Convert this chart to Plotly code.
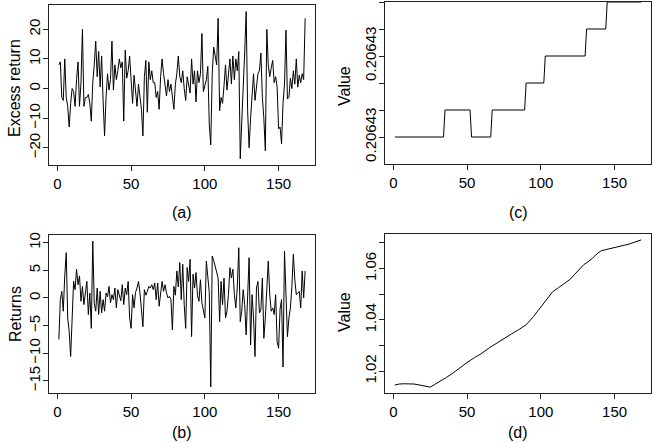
import plotly.graph_objects as go

# ---- data ----
excess_return = [8, 9, -3, -4, 10, -3, -6, -13, -5, 0, -1, -6, 3, 9, -6, 2, 20, -6, -3, -3,
                 -2, -5, -11, 2, 8, 16, 4, 12.5, 0.5, 11, -4, -16, -3, 5, -0.5, 3, 16, -0.5, 8, 3,
                 6, 10, 7, 9, -11, 13, 3.5, 6, 11, 2, -5, 4.5, -1, -6, 1.5, -4, -7, -16, 4, 9.5,
                 -8, 9, 3, 6, 2, 2, -3, -1, -7, 4, 10, 5, 1.5, -2.5, 3, -1, 1.5, -3, -7, 1.5,
                 5, 11, 4, 2, 6, 0, -4, 4, 1, -1.5, 10, 1.5, 6, -4.5, 6, 2, 5, 18.6, -1, 1.5,
                 3, 7.5, -12, -19, 5, 14, 11.5, 8, 23.7, -7.5, -3, -5, 1, 8, -0.5, 5, 10, 1.5, 11, 3,
                 10, 6, 12.5, -23.7, -8, 0.5, 12, 26, -7.5, -20, -10, -3.5, 5, -4, 1, 5, 6, 12, -3, -10,
                 -21, 20, 8, 4, 7, 9.5, 2, 4, 0.5, -13.6, -13, -18.7, -5, 1.5, 19.7, -3.5, -3, 3.5, 0, 6,
                 1.5, 10, 0.5, 4.5, 2, 5, 3, 23.7]

returns = [-7.5, -0.3, 1.2, -2.4, 4, 8.2, -3.6, -6, -10.6, -4.9, 3, 1.5, 5.2, 2.4, 4, -0.6, 2.1, -1.2, 0.5, 3,
           -3, 0.9, -5.5, 10.3, -1, -2.4, 1.8, -3, 1.2, -2.7, -0.3, -2.4, 0.9, 0.2, 2.1, -0.9, 0.6, -0.3, 1.8, -1.8,
           1.5, 0.3, -0.5, 2.4, -1.2, 1.8, 0.6, 3, -3.6, -5.5, 0.6, -1.8, 1, 1.8, 3, 0.9, -2.7, -5.2, 1.5, 0.5,
           1.2, 2.1, 1.8, 2.4, 1.5, 2.7, -0.3, 2.7, -1.5, 0.8, 3, 1.2, 2.4, 0.9, 0, 0.3, -0.3, -5.8, 2.1, 0.5,
           4.9, 2, 6.4, -0.3, 6.1, -1.2, -5.5, 5.5, 3, 7, -7, 4.3, 1.8, 4.6, 0.5, -0.6, 3.3, -0.9, -2.1, -3.6,
           6.7, 3.6, 1, -16.1, 7.6, 6.8, 5.8, 4.6, 3.6, -4.3, 3, -1.2, 3.6, -3.6, -2.4, 0.6, 5.5, 3.6, 5.2, 0.6,
           -1.8, 2, 9.1, -4.3, -2.4, 1.5, -1.2, -6.7, 1, 7.3, -8.5, 0.6, -3.6, -10.6, 1.8, 3, -2.7, -2.1, 3.6, -7.3,
           -3.6, 1, 6.7, 0.6, -2.4, -1.8, -3, 0.6, -7.9, -9.1, -2, -0.3, -12.5, 8.5, 1.8, -7, -3.6, -1.8, 2, 7.9,
           3.3, 0.6, 0.9, 1.2, -1.8, 4.9, 0, 4.9]

step_x = [1, 34, 35, 52, 53, 66, 67, 89, 90, 102, 103, 130, 131, 144, 145, 168]
step_y = [0.2064300, 0.2064300, 0.2064302, 0.2064302, 0.2064300, 0.2064300, 0.2064302, 0.2064302,
          0.2064304, 0.2064304, 0.2064306, 0.2064306, 0.2064308, 0.2064308, 0.2064310, 0.2064310]

curve_x = [1, 4, 7, 10, 14, 18, 22, 25, 28, 32, 36, 40, 45, 50, 55, 60, 65, 70, 75, 80, 85, 90,
           95, 100, 104, 108, 112, 116, 120, 123, 126, 129, 132, 135, 138, 141, 144, 148, 152, 156,
           160, 164, 168]
curve_y = [1.0146, 1.0150, 1.0151, 1.0151, 1.0150, 1.0146, 1.0142, 1.0138, 1.0148, 1.0161, 1.0176,
           1.0191, 1.0213, 1.0234, 1.0253, 1.0270, 1.0291, 1.0310, 1.0328, 1.0345, 1.0362, 1.0381,
           1.0413, 1.0452, 1.0483, 1.0510, 1.0526, 1.0542, 1.0559, 1.0578, 1.0598, 1.0615, 1.0627,
           1.0640, 1.0658, 1.0670, 1.0674, 1.0679, 1.0685, 1.0690, 1.0696, 1.0704, 1.0712]

x_ticks = [0, 50, 100, 150]
a_yticks = [-20, -10, 0, 10, 20]
b_yticks = [-15, -10, -5, 0, 5, 10]
c_yticks = [0.2064300, 0.2064302, 0.2064304, 0.2064306, 0.2064308, 0.2064310]
c_ytext = ["0.20643", "", "", "0.20643", "", ""]
d_yticks = [1.02, 1.03, 1.04, 1.05, 1.06, 1.07]
d_ytext = ["1.02", "", "1.04", "", "1.06", ""]

W, H = 653, 443
FONT = "Liberation Sans, Arial, sans-serif"

def px(x):
    return x / W

def py(y):
    return 1 - y / H

fig = go.Figure()
line = dict(color="black", width=1)
fig.add_trace(go.Scatter(x=list(range(1, len(excess_return) + 1)), y=excess_return, mode="lines",
                         line=line, xaxis="x", yaxis="y", showlegend=False))
fig.add_trace(go.Scatter(x=list(range(1, len(returns) + 1)), y=returns, mode="lines",
                         line=line, xaxis="x2", yaxis="y2", showlegend=False))
fig.add_trace(go.Scatter(x=step_x, y=step_y, mode="lines", line=line, xaxis="x3", yaxis="y3",
                         showlegend=False))
fig.add_trace(go.Scatter(x=curve_x, y=curve_y, mode="lines", line=line, xaxis="x4", yaxis="y4",
                         showlegend=False))

base = dict(showline=True, linecolor="#222", linewidth=1, mirror=True, ticks="outside",
            ticklen=5, tickcolor="#222", showgrid=False, zeroline=False,
            tickfont=dict(family=FONT, size=15, color="black"), automargin=False)
ybase = dict(base, tickangle=-90, ticklabelstandoff=-3)

xr = [-5.68, 174.68]
left_dom = [px(49), px(315)]
right_dom = [px(385), px(651)]

fig.update_layout(
    width=W, height=H,
    margin=dict(l=0, r=0, t=0, b=0),
    paper_bgcolor="white", plot_bgcolor="white",
    xaxis=dict(base, domain=left_dom, range=xr, tickvals=x_ticks, anchor="y"),
    yaxis=dict(ybase, domain=[py(165), py(5)], range=[-25.8, 28.2], tickvals=a_yticks, anchor="x"),
    xaxis2=dict(base, domain=left_dom, range=xr, tickvals=x_ticks, anchor="y2"),
    yaxis2=dict(ybase, domain=[py(393), py(235)], range=[-17.2, 11.4], tickvals=b_yticks,
                anchor="x2"),
    xaxis3=dict(base, domain=right_dom, range=xr, tickvals=x_ticks, anchor="y3"),
    yaxis3=dict(ybase, domain=[py(164), py(2)], range=[0.2064298, 0.2064310], tickvals=c_yticks,
                ticktext=c_ytext, anchor="x3"),
    xaxis4=dict(base, domain=right_dom, range=xr, tickvals=x_ticks, anchor="y4"),
    yaxis4=dict(ybase, domain=[py(393), py(234)], range=[1.0115, 1.0735], tickvals=d_yticks,
                ticktext=d_ytext, anchor="x4"),
)

def label(text, x, y, angle=0, size=16):
    fig.add_annotation(text=text, x=px(x), y=py(y), xref="paper", yref="paper",
                       showarrow=False, textangle=angle, xanchor="center", yanchor="middle",
                       font=dict(family=FONT, size=size, color="black"))

label("Excess return", 15, 88, -90)
label("Returns", 15, 314, -90)
label("Value", 344, 86, -90)
label("Value", 344, 312, -90)
label("(a)", 182, 212)
label("(b)", 182, 432)
label("(c)", 518, 212)
label("(d)", 518, 432)

fig.write_html("out.html", config={"displayModeBar": False},
               post_script="document.body.style.margin='0';document.body.style.overflow='hidden';")
